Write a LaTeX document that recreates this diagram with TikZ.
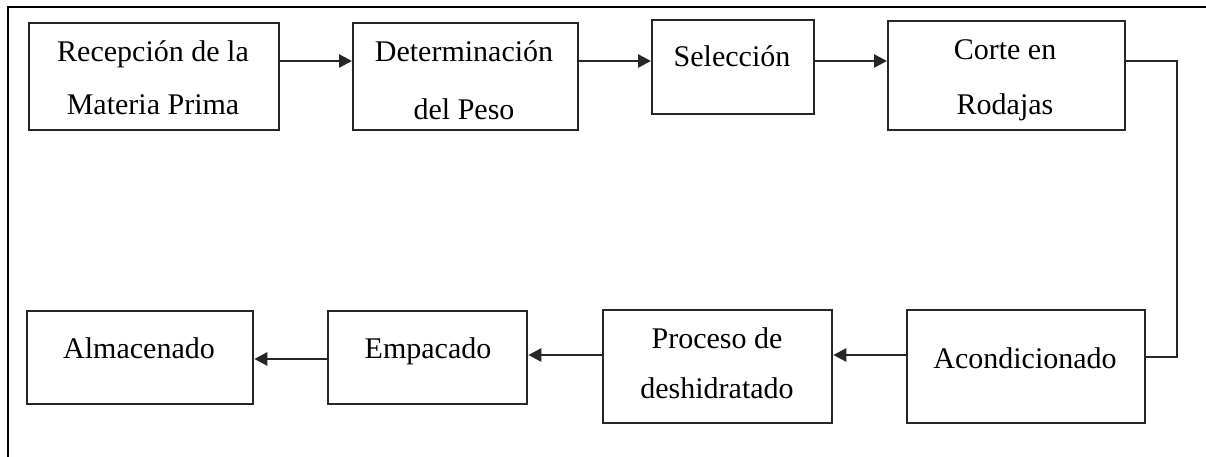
\documentclass[tikz,border=0pt]{standalone}
\usepackage{fontspec}
\setmainfont{Liberation Serif}
\usetikzlibrary{arrows.meta}
\begin{document}
\begin{tikzpicture}[x=1pt,y=-1pt,
  box/.style={draw=black!85, line width=2.3pt, anchor=north west, inner sep=0pt},
  lbl/.style={anchor=base, inner sep=0pt, font=\fontsize{30}{36}\selectfont},
  conn/.style={draw=black!85, line width=2.6pt},
  arr/.style={conn, -{Triangle[length=13pt,width=13pt]}}]
\useasboundingbox (0,0) rectangle (1206,457);
\draw[line width=2.4pt] (8,457) -- (8,7) -- (1206,7);
% boxes
\node[box, minimum width=250pt, minimum height=107pt] (rec) at (28,22) {};
\node[box, minimum width=225pt, minimum height=107pt] (det) at (352,22) {};
\node[box, minimum width=162pt, minimum height=94pt] (sel) at (651,19) {};
\node[box, minimum width=237pt, minimum height=109pt] (cor) at (887,20) {};
\node[box, minimum width=226pt, minimum height=93pt] (alm) at (26,310) {};
\node[box, minimum width=199pt, minimum height=93pt] (emp) at (327,310) {};
\node[box, minimum width=229pt, minimum height=113pt] (pro) at (602,309) {};
\node[box, minimum width=238pt, minimum height=113pt] (aco) at (906,309) {};
% labels
\node[lbl] (recA) at (153,62) {Recepción de la};
\node[lbl] (recB) at (153,115) {Materia Prima};
\node[lbl] (detA) at (464,62) {Determinación};
\node[lbl] (detB) at (464,120) {del Peso};
\node[lbl] (selA) at (732,67) {Selección};
\node[lbl] (corA) at (1005,60) {Corte en};
\node[lbl] (corB) at (1005,115) {Rodajas};
\node[lbl] (almA) at (139,358) {Almacenado};
\node[lbl] (empA) at (428,358) {Empacado};
\node[lbl] (proA) at (717,348) {Proceso de};
\node[lbl] (proB) at (717,398) {deshidratado};
\node[lbl] (acoA) at (1025,368) {Acondicionado};
% connectors
\coordinate (yt) at (0,61);
\coordinate (xr) at (1177,0);
\coordinate (yr) at (0,357);
\coordinate (yb) at (0,355);
\coordinate (yc) at (0,359);
\draw[arr] (rec.east |- yt) -- (det.west |- yt);
\draw[arr] (det.east |- yt) -- (sel.west |- yt);
\draw[arr] (sel.east |- yt) -- (cor.west |- yt);
\draw[conn] (cor.east |- yt) -| (xr |- yr) -- (aco.east |- yr);
\draw[arr] (aco.west |- yb) -- (pro.east |- yb);
\draw[arr] (pro.west |- yb) -- (emp.east |- yb);
\draw[arr] (emp.west |- yc) -- (alm.east |- yc);
\end{tikzpicture}
\end{document}
